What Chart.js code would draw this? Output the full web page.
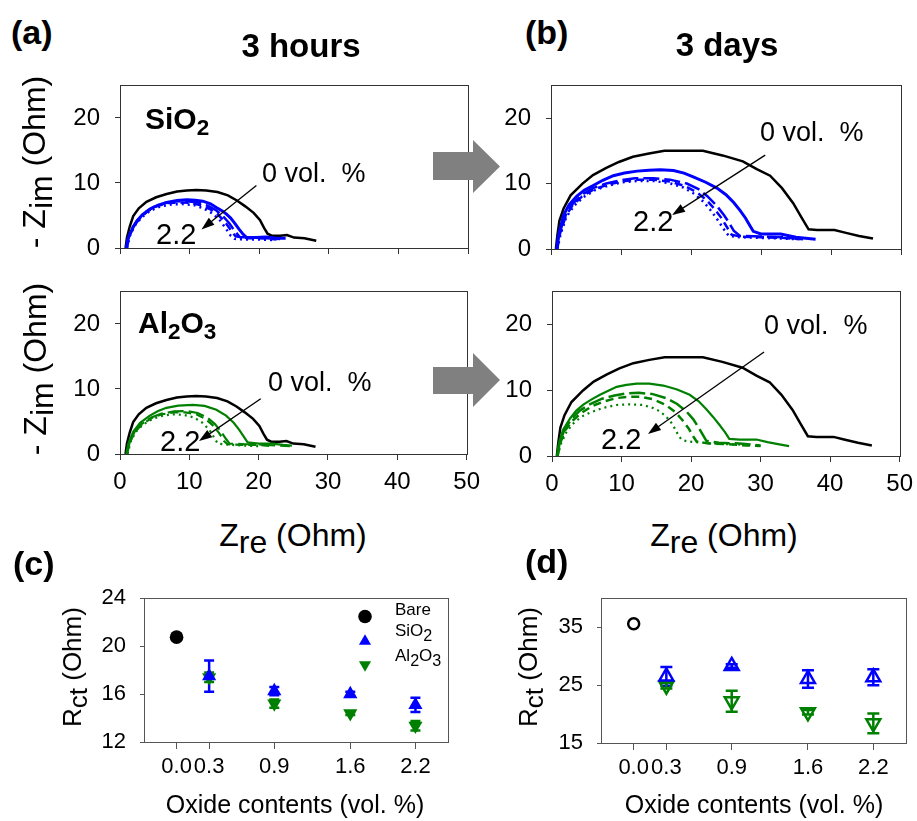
<!DOCTYPE html>
<html>
<head>
<meta charset="utf-8">
<script src="https://cdn.jsdelivr.net/npm/chart.js@4.4.0/dist/chart.umd.min.js"></script>
<style>
body { margin: 0; background: #fff; }
#fig { position: relative; width: 917px; height: 821px; overflow: hidden; font-family: "Liberation Sans", Arial, sans-serif; color: #000; }
#fig canvas { position: absolute; }
.t { position: absolute; white-space: pre; line-height: 1; }
.b { font-weight: bold; }
.sub { position: relative; top: 0.22em; }
.sm { font-size: 0.75em; position: relative; top: 0.3em; }
.lg { font-size: 0.95em; position: relative; top: 0.3em; }
#blocks { position: absolute; left: 0; top: 0; z-index: 5; }
</style>
</head>
<body>
<div id="fig">
<svg id="blocks" width="917" height="821">
  <polygon points="433,152 473,152 473,140 500,166.5 473,193 473,180 433,180" fill="#808080"/>
  <polygon points="433,367 473,367 473,353 500,380 473,407 473,394 433,394" fill="#808080"/>
</svg>
</div>
<script>
// Nyquist curves, [Zre, -Zim] in Ohm
var bare3h = [[0.8,0],[1.0,1.6],[1.4,3.3],[1.9,4.9],[2.7,6.1],[3.8,7.1],[5.2,7.8],[6.7,8.3],[8.2,8.7],[9.6,8.85],[11,8.9],[12.4,8.85],[14,8.6],[15.5,8.1],[16.8,7.3],[18,6.4],[19.2,5.4],[20.1,4.3],[20.7,3.1],[21.2,2.2],[21.8,1.9],[23,1.9],[24,2.0],[25,1.6],[26.5,1.5],[28.2,1.1]];
var sio2_03_3h = [[0.9,0],[1.1,1.2],[1.4,2.1],[1.9,3.2],[2.4,4.1],[3.2,5.1],[4.3,6.0],[5.5,6.6],[6.7,7.0],[8.2,7.3],[9.6,7.4],[10.8,7.35],[11.9,7.2],[13,6.8],[13.9,6.2],[14.7,5.7],[15.3,5.2],[15.9,4.6],[16.5,3.8],[17.1,2.9],[17.7,2.1],[18.2,1.6],[19.5,1.6],[21,1.7],[22.5,1.5],[23.8,1.5]];
var sio2_09_3h = [[0.9,0],[1.2,1.6],[1.7,3.0],[2.5,4.3],[3.5,5.4],[4.8,6.3],[6.3,6.9],[8,7.15],[9.6,7.2],[11.2,7.0],[12.6,6.5],[13.8,5.8],[14.8,4.9],[15.7,3.8],[16.5,2.6],[17.2,1.7],[19,1.6],[21,1.5],[23,1.4]];
var sio2_16_3h = [[1,0],[1.3,1.7],[1.9,3.2],[2.8,4.5],[3.9,5.6],[5.2,6.4],[6.8,6.9],[8.5,7.0],[10,6.95],[11.5,6.6],[12.9,6.0],[14.1,5.1],[15.1,4.0],[15.9,2.8],[16.6,1.8],[18.5,1.5],[20.5,1.5],[22.5,1.3]];
var sio2_22_3h = [[1,0],[1.4,1.8],[2.1,3.4],[3.1,4.7],[4.3,5.7],[5.8,6.4],[7.4,6.7],[9,6.75],[10.6,6.6],[12,6.1],[13.3,5.3],[14.4,4.2],[15.2,3.0],[15.9,1.9],[16.5,1.4],[18.5,1.3],[20.5,1.3],[22,1.2]];
var al_03_3h = [[0.9,0],[1.2,1.6],[1.9,3.4],[2.9,4.8],[4.3,5.9],[5.5,6.6],[6.7,7.1],[8.4,7.45],[10.5,7.55],[12.2,7.4],[13.9,6.8],[15.3,5.9],[16.4,4.8],[17.2,3.7],[17.9,2.6],[18.4,1.8],[20,1.6],[22,1.6],[23.5,1.4],[24.8,1.3]];
var al_09_3h = [[1,0],[1.4,1.8],[2.1,3.4],[3.1,4.6],[4.5,5.6],[6,6.2],[7.8,6.55],[9.6,6.6],[11.2,6.3],[12.6,5.6],[13.7,4.6],[14.6,3.4],[15.3,2.3],[15.8,1.6],[18,1.5],[20,1.5],[22.5,1.3],[24.5,1.2]];
var al_16_3h = [[1,0],[1.4,1.7],[2.1,3.3],[3.1,4.5],[4.5,5.5],[6,6.1],[7.8,6.4],[9.4,6.4],[11,6.1],[12.3,5.4],[13.4,4.4],[14.3,3.2],[15,2.0],[15.5,1.5],[17.5,1.4],[20,1.4],[22,1.2]];
var al_22_3h = [[1.1,0],[1.5,1.8],[2.2,3.3],[3.3,4.5],[4.7,5.4],[6.2,5.9],[7.8,6.1],[9.3,6.0],[10.7,5.6],[11.9,4.8],[12.9,3.7],[13.6,2.5],[14.1,1.6],[16,1.4],[18,1.3],[20,1.2]];

var bare3d = [[0.7,0],[0.9,2],[1.2,4.3],[1.8,6.2],[2.8,8.2],[4.5,10.0],[6,11.3],[7.9,12.4],[9.7,13.3],[11.7,14.1],[14,14.6],[16.2,15.0],[19,15.0],[21.7,15.0],[24.5,14.3],[27.4,13.4],[29.4,12.2],[31.3,11.2],[33,9.3],[34.6,7.0],[35.8,4.8],[36.8,3.0],[38,2.9],[40.5,2.9],[42,2.5],[44,2.0],[46,1.6]];
var sio2_03_3d = [[0.8,0],[1.1,2.2],[1.8,5.2],[2.6,6.8],[3.7,8.1],[4.8,9.0],[6.1,9.75],[7.4,10.5],[8.9,11.2],[10.5,11.6],[12.3,11.9],[14,12.05],[15.6,12.1],[17.5,12.0],[19,11.6],[20.4,11.0],[22.1,10.2],[23.7,9.3],[25,8.3],[26.1,7.1],[27,5.9],[27.8,4.7],[28.4,3.6],[28.9,2.7],[30,2.3],[32.8,2.3],[35,1.8],[37.8,1.5]];
var sio2_09_3d = [[0.8,0],[1.2,2.4],[2,5.0],[3,6.8],[4.3,8.2],[6,9.3],[7.9,10.0],[9.9,10.5],[12,10.8],[14.6,10.8],[17,10.6],[19.4,10.0],[21,9.2],[22.3,8.1],[23.6,6.7],[24.7,5.2],[25.5,3.9],[26.1,2.8],[27,2.0],[30,1.9],[33,1.8],[36,1.5]];
var sio2_16_3d = [[0.9,0],[1.3,2.4],[2.1,5.0],[3.1,6.7],[4.4,8.0],[6.1,9.1],[8,9.8],[10,10.3],[12.2,10.6],[14.6,10.6],[17,10.3],[19.2,9.6],[20.8,8.7],[22.1,7.6],[23.3,6.2],[24.3,4.8],[25.1,3.4],[25.8,2.2],[27,1.9],[30,1.8],[33,1.7],[35.5,1.5]];
var sio2_22_3d = [[0.9,0],[1.4,2.4],[2.2,4.9],[3.3,6.6],[4.6,7.9],[6.3,9.0],[8.2,9.7],[10.2,10.2],[12.4,10.4],[14.6,10.4],[16.8,10.1],[18.9,9.4],[20.5,8.4],[21.8,7.2],[22.9,5.8],[23.9,4.3],[24.7,3.0],[25.4,2.0],[27,1.8],[30,1.7],[33,1.6],[35,1.5]];
var al_03_3d = [[0.7,0],[1.0,2.0],[1.6,4.0],[2.6,5.7],[3.5,6.9],[4.5,7.8],[5.7,8.6],[6.9,9.3],[8.1,9.9],[9.3,10.5],[10.7,10.8],[12.2,11.0],[14,11.0],[16,10.7],[18,10.1],[19.8,9.3],[21.1,8.3],[22.2,7.1],[23.2,5.9],[24.1,4.7],[24.9,3.6],[25.5,2.6],[27,2.5],[29.4,2.5],[31,2.1],[32.5,1.8],[34.1,1.5]];
var al_09_3d = [[0.8,0],[1.1,2.0],[1.8,4.0],[2.8,5.6],[4,6.9],[5.5,7.9],[7.2,8.7],[9,9.2],[10.7,9.5],[12.5,9.6],[14.5,9.4],[16.4,8.8],[18,7.9],[19.3,6.8],[20.3,5.6],[21.1,4.3],[21.7,3.2],[22.2,2.3],[24,2.0],[27,1.9],[30,1.6]];
var al_16_3d = [[0.8,0],[1.2,2.0],[1.9,3.9],[3,5.4],[4.3,6.6],[5.8,7.6],[7.5,8.3],[9.3,8.8],[11,9.0],[12.8,9.0],[14.6,8.6],[16.3,7.8],[17.7,6.7],[18.8,5.4],[19.7,4.1],[20.3,3.0],[20.8,2.2],[22.5,1.9],[25,1.8],[28,1.6],[30,1.5]];
var al_22_3d = [[0.8,0],[1.3,1.9],[2.1,3.7],[3.2,5.1],[4.3,6.0],[5.5,6.6],[7.3,7.3],[9.3,7.75],[11.2,7.85],[13.1,7.75],[14.5,7.3],[15.5,6.8],[16.4,6.0],[17.2,5.0],[17.7,4.1],[18.1,3.3],[18.6,2.5],[19.5,2.2],[22,2.0],[25,1.8],[28.4,1.7]];

var zreTicks = [0, 10, 20, 30, 40, 50];
var zimTicks = [0, 10, 20];

// charge-transfer resistance vs oxide content
var contentTicks = [0, 0.3, 0.9, 1.6, 2.2];
var oxideContents = [0.3, 0.9, 1.6, 2.2];
var rctBare3h = 20.75;
var rctSiO2_3h = [17.5, 16.25, 16.0, 15.1];
var errSiO2_3h = [1.3, 0.35, 0.2, 0.6];
var rctAl2O3_3h = [17.4, 15.2, 14.4, 13.35];
var errAl2O3_3h = [0.4, 0.35, 0.15, 0.4];
var rctBare3d = 35.6;
var rctSiO2_3d = [26.5, 28.3, 26.05, 26.35];
var errSiO2_3d = [1.6, 0.3, 1.5, 1.4];
var rctAl2O3_3d = [24.9, 22.2, 20.3, 18.4];
var errAl2O3_3d = [0.5, 1.8, 0.4, 1.7];
var rctTicks3h = [12, 16, 20, 24];
var rctTicks3d = [15, 25, 35];

var BLUE = '#0000ff', GREEN = '#008000', BLACK = '#000000';
var dashFor = { '0.3': [], '0.9': [16, 5], '1.6': [8, 5], '2.2': [2, 4] };

Chart.defaults.font.family = "'Liberation Sans', Arial, sans-serif";
Chart.defaults.color = '#000';

var fig = document.getElementById('fig');

function addCanvas(area, padL, padB) {
    var c = document.createElement('canvas');
    var w = area.r - area.l + padL + 20, h = area.b - area.t + 20 + padB;
    c.width = w; c.height = h;
    c.style.left = (area.l - padL) + 'px';
    c.style.top = (area.t - 20) + 'px';
    c.style.width = w + 'px';
    c.style.height = h + 'px';
    fig.appendChild(c);
    return c;
}

function text(html, x, base, size, cls, center) {
    var d = document.createElement('div');
    d.className = 't ' + (cls || '');
    d.innerHTML = html;
    d.style.fontSize = size + 'px';
    d.style.left = x + 'px';
    d.style.top = (base - 0.8465 * size) + 'px';
    if (center) d.style.transform = 'translateX(-50%)';
    fig.appendChild(d);
}

function vtext(html, cx, cy, size) {
    var d = document.createElement('div');
    d.className = 't';
    d.innerHTML = html;
    d.style.fontSize = size + 'px';
    d.style.left = cx + 'px';
    d.style.top = cy + 'px';
    d.style.transform = 'translate(-50%,-50%) rotate(-90deg)';
    fig.appendChild(d);
}

function setTicks(vals) {
    return function (scale) { scale.ticks = vals.map(function (v) { return { value: v }; }); };
}

var framePlugin = {
    id: 'frame',
    afterDraw: function (chart, args, opts) {
        var a = chart.chartArea, ctx = chart.ctx;
        ctx.save();
        ctx.strokeStyle = opts.color || '#333';
        ctx.lineWidth = 1;
        ctx.strokeRect(Math.round(a.left) + 0.5, Math.round(a.top) + 0.5, Math.round(a.right - a.left), Math.round(a.bottom - a.top));
        ctx.restore();
    }
};

var pointerPlugin = {
    id: 'pointer',
    afterDatasetsDraw: function (chart, args, opts) {
        if (!opts.from) return;
        var xs = chart.scales.x, ys = chart.scales.y, ctx = chart.ctx;
        var x1 = xs.getPixelForValue(opts.from[0]), y1 = ys.getPixelForValue(opts.from[1]);
        var x2 = xs.getPixelForValue(opts.to[0]), y2 = ys.getPixelForValue(opts.to[1]);
        var ang = Math.atan2(y2 - y1, x2 - x1), head = 13, half = 4.5;
        var c = Math.cos(ang), s = Math.sin(ang);
        ctx.save();
        ctx.strokeStyle = '#000';
        ctx.fillStyle = '#000';
        ctx.lineWidth = 1.3;
        ctx.beginPath();
        ctx.moveTo(x1, y1);
        ctx.lineTo(x2 - c * head * 0.8, y2 - s * head * 0.8);
        ctx.stroke();
        ctx.beginPath();
        ctx.moveTo(x2, y2);
        ctx.lineTo(x2 - head * c + half * s, y2 - head * s - half * c);
        ctx.lineTo(x2 - head * c - half * s, y2 - head * s + half * c);
        ctx.closePath();
        ctx.fill();
        ctx.restore();
    }
};

var errorPlugin = {
    id: 'errbars',
    beforeDatasetsDraw: function (chart, args, opts) {
        var xs = chart.scales.x, ys = chart.scales.y, ctx = chart.ctx;
        chart.data.datasets.forEach(function (ds) {
            if (!ds.errs) return;
            ctx.save();
            ctx.strokeStyle = ds.borderColor;
            ctx.lineWidth = 2.5;
            ds.data.forEach(function (p, j) {
                var x = xs.getPixelForValue(p.x);
                var yt = ys.getPixelForValue(p.y + ds.errs[j]);
                var yb = ys.getPixelForValue(p.y - ds.errs[j]);
                var cap = opts.cap || 5;
                ctx.beginPath();
                ctx.moveTo(x, yt); ctx.lineTo(x, yb);
                ctx.moveTo(x - cap, yt); ctx.lineTo(x + cap, yt);
                ctx.moveTo(x - cap, yb); ctx.lineTo(x + cap, yb);
                ctx.stroke();
            });
            ctx.restore();
        });
    }
};

// marker keys for the Rct legend
var keyPlugin = {
    id: 'key',
    afterDraw: function (chart, args, opts) {
        if (!opts.items) return;
        var ctx = chart.ctx, a = chart.chartArea;
        opts.items.forEach(function (it) {
            var x = a.left + it.dx, y = a.top + it.dy, r = it.r;
            ctx.save();
            ctx.fillStyle = it.color;
            ctx.beginPath();
            if (it.style === 'circle') {
                ctx.arc(x, y, r, 0, Math.PI * 2);
            } else {
                var rad = it.rotation * Math.PI / 180;
                ctx.moveTo(x + Math.sin(rad) * r, y - Math.cos(rad) * r);
                rad += Math.PI * 2 / 3;
                ctx.lineTo(x + Math.sin(rad) * r, y - Math.cos(rad) * r);
                rad += Math.PI * 2 / 3;
                ctx.lineTo(x + Math.sin(rad) * r, y - Math.cos(rad) * r);
                ctx.closePath();
            }
            ctx.fill();
            ctx.restore();
        });
    }
};

function line(pts, color, width, dash) {
    return {
        data: pts.map(function (p) { return { x: p[0], y: p[1] }; }),
        showLine: true, pointRadius: 0, borderColor: color, borderWidth: width,
        borderDash: dash, tension: 0, fill: false
    };
}

function nyquist(area, datasets, pointer, showXLabels) {
    var cv = addCanvas(area, 70, 60);
    return new Chart(cv, {
        type: 'scatter',
        data: { datasets: datasets },
        options: {
            responsive: false, animation: false, events: [],
            layout: { padding: { top: 20, right: 20, left: 0, bottom: 0 } },
            plugins: { legend: { display: false }, tooltip: { enabled: false }, pointer: pointer, frame: { color: '#333' } },
            scales: {
                x: {
                    type: 'linear', min: 0, max: 50,
                    afterBuildTicks: setTicks(zreTicks),
                    afterFit: function (s) { s.height = 60; },
                    grid: { drawOnChartArea: false, tickLength: 6, color: '#333' },
                    border: { color: '#333' },
                    ticks: { display: showXLabels, font: { size: 24 }, padding: 8, maxRotation: 0, autoSkip: false }
                },
                y: {
                    type: 'linear', min: 0, max: 25,
                    afterBuildTicks: setTicks(zimTicks),
                    afterFit: function (s) { s.width = 70; },
                    grid: { drawOnChartArea: false, tickLength: 5, color: '#333' },
                    border: { color: '#333' },
                    ticks: { font: { size: 24 }, padding: 15 }
                }
            }
        },
        plugins: [framePlugin, pointerPlugin]
    });
}

function rctChart(area, yMin, yMax, yTicks, bare, sio2, sio2Err, al, alErr, hollow, keys) {
    var cv = addCanvas(area, 70, 50);
    var fillOf = function (c) { return hollow ? 'rgba(0,0,0,0)' : c; };
    var bw = hollow ? 2.5 : 0;
    return new Chart(cv, {
        type: 'scatter',
        data: {
            datasets: [
                { data: [{ x: 0, y: bare }], pointStyle: 'circle', pointRadius: hollow ? 5.5 : 6.8,
                  pointBackgroundColor: fillOf(BLACK), pointBorderColor: BLACK, pointBorderWidth: bw, borderColor: BLACK },
                { data: oxideContents.map(function (x, i) { return { x: x, y: sio2[i] }; }), errs: sio2Err,
                  pointStyle: 'triangle', pointRadius: hollow ? 8 : 8.2,
                  pointBackgroundColor: fillOf(BLUE), pointBorderColor: BLUE, pointBorderWidth: bw, borderColor: BLUE },
                { data: oxideContents.map(function (x, i) { return { x: x, y: al[i] }; }), errs: alErr,
                  pointStyle: 'triangle', pointRotation: 180, pointRadius: hollow ? 8 : 8.2,
                  pointBackgroundColor: fillOf(GREEN), pointBorderColor: GREEN, pointBorderWidth: bw, borderColor: GREEN }
            ]
        },
        options: {
            responsive: false, animation: false, events: [],
            layout: { padding: { top: 20, right: 20, left: 0, bottom: 0 } },
            plugins: { legend: { display: false }, tooltip: { enabled: false }, frame: { color: '#555' },
                       errbars: { cap: hollow ? 6 : 5 }, key: { items: keys } },
            scales: {
                x: {
                    type: 'linear', min: -0.3, max: 2.5,
                    afterBuildTicks: setTicks(contentTicks),
                    afterFit: function (s) { s.height = 50; },
                    grid: { drawOnChartArea: false, tickLength: 7, color: '#555' },
                    border: { color: '#555' },
                    ticks: { font: { size: 22 }, padding: 5, maxRotation: 0, autoSkip: false,
                             callback: function (v) { return Number(v).toFixed(1); } }
                },
                y: {
                    type: 'linear', min: yMin, max: yMax,
                    afterBuildTicks: setTicks(yTicks),
                    afterFit: function (s) { s.width = 70; },
                    grid: { drawOnChartArea: false, tickLength: 4, color: '#555' },
                    border: { color: '#555' },
                    ticks: { font: { size: 22 }, padding: 14 }
                }
            }
        },
        plugins: [framePlugin, errorPlugin, keyPlugin]
    });
}

// (a) 3 hours / (b) 3 days Nyquist plots
nyquist({ l: 120, t: 76, r: 468, b: 248 }, [
    line(sio2_03_3h, BLUE, 3, dashFor['0.3']),
    line(sio2_09_3h, BLUE, 2.5, dashFor['0.9']),
    line(sio2_16_3h, BLUE, 2.5, dashFor['1.6']),
    line(sio2_22_3h, BLUE, 2.5, dashFor['2.2']),
    line(bare3h, BLACK, 2.5, [])
], { from: [19.6, 9.6], to: [11.7, 2.85] }, false);

nyquist({ l: 551, t: 76, r: 901, b: 249 }, [
    line(sio2_03_3d, BLUE, 3, dashFor['0.3']),
    line(sio2_09_3d, BLUE, 2.5, dashFor['0.9']),
    line(sio2_16_3d, BLUE, 2.5, dashFor['1.6']),
    line(sio2_22_3d, BLUE, 2.5, dashFor['2.2']),
    line(bare3d, BLACK, 2.5, [])
], { from: [30.6, 14.35], to: [17.3, 5.2] }, false);

nyquist({ l: 120, t: 282, r: 468, b: 454 }, [
    line(al_03_3h, GREEN, 2.2, dashFor['0.3']),
    line(al_09_3h, GREEN, 2.2, dashFor['0.9']),
    line(al_16_3h, GREEN, 2.2, dashFor['1.6']),
    line(al_22_3h, GREEN, 2.2, dashFor['2.2']),
    line(bare3h, BLACK, 2.5, [])
], { from: [20.3, 8.5], to: [11.4, 2.0] }, true);

nyquist({ l: 552, t: 282, r: 901, b: 456 }, [
    line(al_03_3d, GREEN, 2.2, dashFor['0.3']),
    line(al_09_3d, GREEN, 2.5, dashFor['0.9']),
    line(al_16_3d, GREEN, 2.5, dashFor['1.6']),
    line(al_22_3d, GREEN, 2.2, dashFor['2.2']),
    line(bare3d, BLACK, 2.5, [])
], { from: [30.5, 15.8], to: [13.8, 3.35] }, true);

// (c) / (d) Rct
rctChart({ l: 144, t: 591, r: 448, b: 742 }, 12, 24, rctTicks3h,
    rctBare3h, rctSiO2_3h, errSiO2_3h, rctAl2O3_3h, errAl2O3_3h, false, [
        { style: 'circle', color: BLACK, r: 6.8, dx: 221, dy: 18.3 },
        { style: 'triangle', color: BLUE, r: 7, rotation: 0, dx: 221, dy: 43 },
        { style: 'triangle', color: GREEN, r: 7, rotation: 180, dx: 221, dy: 66.5 }
    ]);

rctChart({ l: 601, t: 591, r: 906, b: 743 }, 15, 40, rctTicks3d,
    rctBare3d, rctSiO2_3d, errSiO2_3d, rctAl2O3_3d, errAl2O3_3d, true, null);

// labels
text('(a)', 11, 44, 34, 'b');
text('3 hours', 301, 57, 33, 'b', true);
text('(b)', 525, 44, 34, 'b');
text('3 days', 727, 56, 33, 'b', true);
text('SiO<span class="sm">2</span>', 145, 129, 30, 'b');
text('Al<span class="sm">2</span>O<span class="sm">3</span>', 138, 333, 30, 'b');

text('0 vol.  %', 262, 183, 27);
text('2.2', 156, 245, 29);
text('0 vol.  %', 760, 141.5, 27);
text('2.2', 633, 231.5, 29);
text('0 vol.  %', 268, 391.5, 27);
text('2.2', 160, 451.5, 29);
text('0 vol.  %', 764, 335, 27);
text('2.2', 601, 450, 29);

vtext('- Z<span class="sub">im</span> (Ohm)', 34, 162, 32);
vtext('- Z<span class="sub">im</span> (Ohm)', 35, 369, 32);
text('Z<span class="sub">re</span> (Ohm)', 293, 546.5, 32, '', true);
text('Z<span class="sub">re</span> (Ohm)', 724, 546.5, 32, '', true);

text('(c)', 13, 575, 34, 'b');
text('(d)', 525, 573, 34, 'b');
vtext('R<span class="sub">ct</span> (Ohm)', 72, 667, 26);
vtext('R<span class="sub">ct</span> (Ohm)', 528, 667, 26);
text('Oxide contents (vol. %)', 295, 813, 25, '', true);
text('Oxide contents (vol. %)', 754, 813, 25, '', true);

text('Bare', 395, 615.7, 17);
text('SiO<span class="lg">2</span>', 395, 636.7, 17);
text('Al<span class="lg">2</span>O<span class="lg">3</span>', 395, 661.7, 17);
</script>
</body>
</html>
